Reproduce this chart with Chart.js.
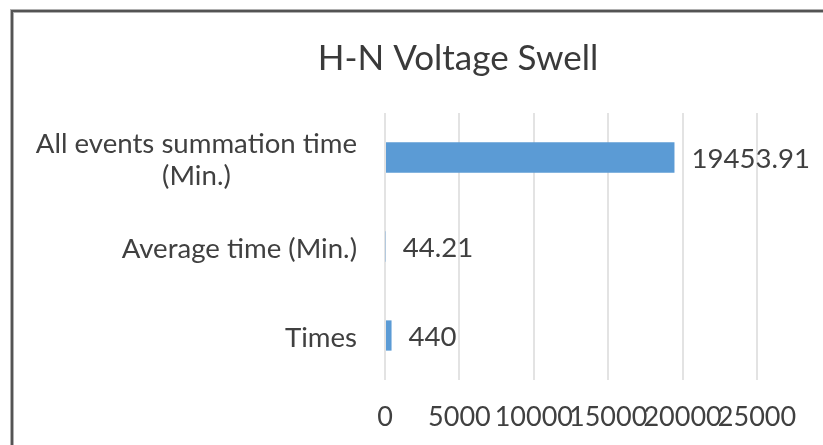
<!DOCTYPE html>
<html>
<head>
<meta charset="utf-8">
<script src="https://cdn.jsdelivr.net/npm/chart.js@4"></script>
<style>
  html, body { margin: 0; padding: 0; background: #fff; overflow: hidden; }
  body { width: 823px; height: 445px; position: relative; }
  #frame {
    position: absolute; left: 11px; top: 10px; width: 1000px; height: 600px;
    border-left: 2px solid #545454; border-top: 2px solid #545454;
    box-shadow: -1px -1px 0 #b0b0b0, inset 1px 1px 0 #b0b0b0;
  }
  #wrap { position: absolute; left: 0; top: 0; width: 916px; height: 445px; }
</style>
</head>
<body>
<div id="frame"></div>
<div id="wrap"><canvas id="chart"></canvas></div>
<script>
const categories = [["All events summation time", "(Min.)"], "Average time (Min.)", "Times"];
const values = [19453.91, 44.21, 440];
const valueLabels = ["19453.91", "44.21", "440"];
const xTicks = [0, 5000, 10000, 15000, 20000, 25000];

const FONT = "Lato, 'Open Sans', sans-serif";
const textColor = "#404040";

// category labels drawn by hand so the two-line label is centred like Excel
const categoryLabels = {
  id: "categoryLabels",
  afterDraw(chart) {
    const ctx = chart.ctx;
    const yScale = chart.scales.y;
    ctx.save();
    ctx.font = "27.6px " + FONT;
    ctx.fillStyle = textColor;
    ctx.textAlign = "center";
    ctx.textBaseline = "middle";
    const right = chart.chartArea.left - 28;
    categories.forEach((c, i) => {
      const lines = Array.isArray(c) ? c : [c];
      const widest = Math.max(...lines.map(l => ctx.measureText(l).width));
      const yc = yScale.getPixelForValue(i) + 2.5;
      const lh = 32;
      lines.forEach((l, j) => {
        ctx.fillText(l, right - widest / 2, yc - (lines.length - 1) * lh / 2 + j * lh);
      });
    });
    ctx.restore();
  }
};

const barLabels = {
  id: "barLabels",
  afterDatasetsDraw(chart) {
    const ctx = chart.ctx;
    ctx.save();
    ctx.font = "27.6px " + FONT;
    ctx.fillStyle = textColor;
    ctx.textAlign = "left";
    ctx.textBaseline = "middle";
    chart.getDatasetMeta(0).data.forEach((bar, i) => {
      ctx.fillText(valueLabels[i], bar.x + 17, bar.y + 2);
    });
    ctx.restore();
  }
};

new Chart(document.getElementById("chart"), {
  type: "bar",
  data: {
    labels: categories,
    datasets: [{
      data: values,
      backgroundColor: "#5b9bd5",
      barPercentage: 0.85,
      categoryPercentage: 0.4
    }]
  },
  options: {
    indexAxis: "y",
    responsive: true,
    maintainAspectRatio: false,
    animation: false,
    layout: { padding: 0 },
    plugins: {
      legend: { display: false },
      tooltip: { enabled: false },
      title: {
        display: true,
        text: "H-N Voltage Swell",
        color: "#3a3a3a",
        font: { family: FONT, size: 35, weight: "normal" },
        padding: { top: 38, bottom: 33 }
      }
    },
    scales: {
      x: {
        min: 0,
        max: 25000,
        afterBuildTicks: scale => { scale.ticks = xTicks.map(v => ({ value: v })); },
        afterFit: scale => { scale.paddingRight = 159; scale.height = 65; },
        ticks: {
          color: textColor,
          font: { family: FONT, size: 27 },
          padding: 21,
          autoSkip: false,
          maxRotation: 0,
          minRotation: 0,
          callback: v => String(v)
        },
        grid: { color: "#e3e3e3", lineWidth: 2, drawTicks: false },
        border: { display: false }
      },
      y: {
        ticks: { display: false },
        grid: { display: false },
        border: { display: false },
        afterFit: scale => { scale.width = 385; }
      }
    }
  },
  plugins: [categoryLabels, barLabels]
});
</script>
</body>
</html>
